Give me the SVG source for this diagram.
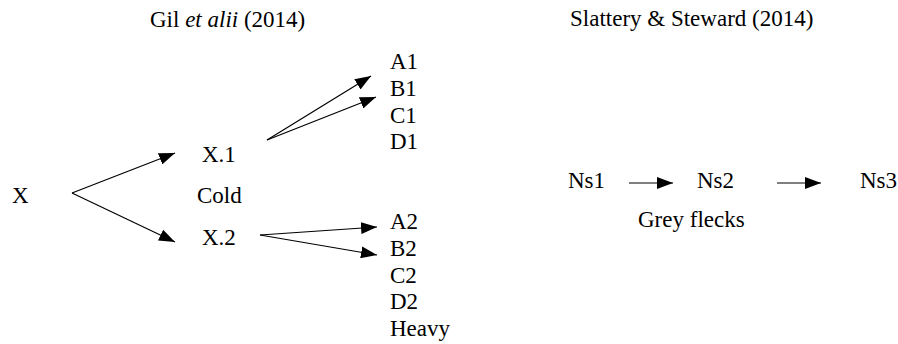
<svg xmlns="http://www.w3.org/2000/svg" width="898" height="344" viewBox="0 0 898 344">
  <style>
    text { font-size: 23px; fill: #000; }
    .conn line { stroke: #000; stroke-width: 1.2; fill: none; marker-end: url(#ah); }
  </style>
  <defs>
    <marker id="ah" markerUnits="userSpaceOnUse" markerWidth="16" markerHeight="12" refX="16" refY="6" orient="auto">
      <path d="M0,0 L16,6 L0,12 z" fill="#000"/>
    </marker>
  </defs>
  <rect width="898" height="344" fill="#fff"/>

  <g id="title-gil"><text x="150" y="27" font-family="Times New Roman">Gil <tspan font-style="italic">et alii</tspan> (2014)</text></g>
  <g id="title-slattery"><text x="570" y="26" font-family="Times New Roman">Slattery &amp; Steward (2014)</text></g>

  <g id="node-X"><text x="12" y="203" font-family="Times New Roman">X</text></g>
  <g id="node-X1"><text x="202" y="162" font-family="Times New Roman">X.1</text></g>
  <g id="label-cold"><text x="197" y="203" font-family="Times New Roman">Cold</text></g>
  <g id="node-X2"><text x="202" y="245" font-family="Times New Roman">X.2</text></g>

  <g id="group-1">
    <text x="390" y="69" font-family="Times New Roman">A1</text>
    <text x="390" y="96" font-family="Times New Roman">B1</text>
    <text x="390" y="122.5" font-family="Times New Roman">C1</text>
    <text x="390" y="149" font-family="Times New Roman">D1</text>
  </g>
  <g id="group-2">
    <text x="390" y="229" font-family="Times New Roman">A2</text>
    <text x="390" y="256" font-family="Times New Roman">B2</text>
    <text x="390" y="282.5" font-family="Times New Roman">C2</text>
    <text x="390" y="309" font-family="Times New Roman">D2</text>
    <text x="390" y="336" font-family="Times New Roman">Heavy</text>
  </g>

  <g id="node-Ns1"><text x="568" y="188" font-family="Times New Roman">Ns1</text></g>
  <g id="node-Ns2"><text x="697" y="188" font-family="Times New Roman">Ns2</text></g>
  <g id="node-Ns3"><text x="860" y="188" font-family="Times New Roman">Ns3</text></g>
  <g id="label-grey"><text x="638" y="227" font-family="Times New Roman">Grey flecks</text></g>

  <g id="connectors" class="conn">
    <line x1="72" y1="193" x2="175" y2="153"/>
    <line x1="72" y1="193" x2="175" y2="242"/>
    <line x1="267" y1="140" x2="371" y2="76"/>
    <line x1="267" y1="140" x2="376" y2="97"/>
    <line x1="260" y1="235" x2="377" y2="227"/>
    <line x1="260" y1="235" x2="377" y2="255"/>
    <line x1="629" y1="183" x2="673" y2="183"/>
    <line x1="777" y1="183" x2="821" y2="183"/>
  </g>
</svg>
